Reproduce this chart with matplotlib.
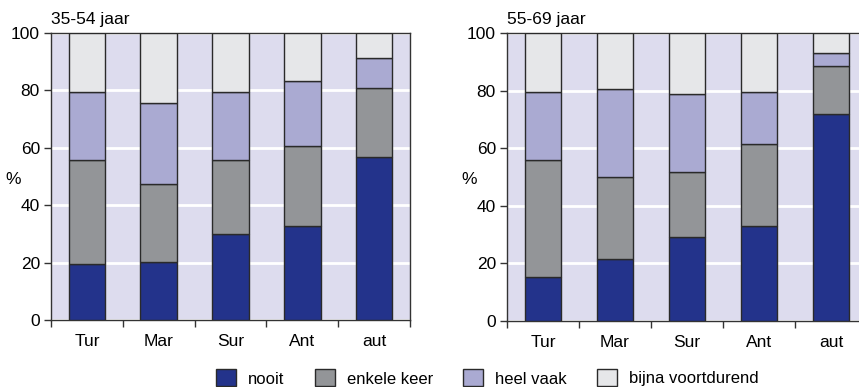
import matplotlib
matplotlib.use("Agg")
import matplotlib.pyplot as plt
import numpy as np
from matplotlib.patches import Patch

categories = ["Tur", "Mar", "Sur", "Ant", "aut"]
series_names = ["nooit", "enkele keer", "heel vaak", "bijna voortdurend"]
titles = ["35-54 jaar", "55-69 jaar"]

# segment heights per category
left_nooit = [19.4, 20.1, 30.1, 32.8, 56.7]
left_enkele = [36.3, 27.2, 25.5, 27.9, 24.2]
left_heel = [23.7, 28.4, 23.8, 22.7, 10.4]
left_bijna = [20.6, 24.3, 20.6, 16.6, 8.7]

right_nooit = [15.3, 21.5, 29.2, 32.9, 71.8]
right_enkele = [40.7, 28.5, 22.5, 28.6, 16.6]
right_heel = [23.4, 30.4, 27.0, 18.0, 4.7]
right_bijna = [20.6, 19.6, 21.3, 20.5, 6.9]

yticks = [0, 20, 40, 60, 80, 100]

colors = ["#23338b", "#939598", "#aaaad2", "#e6e7e9"]
bg = "#dddcee"
edge = "#2a2a2a"

plt.rcParams["font.family"] = ["Liberation Sans", "DejaVu Sans"]

fig = plt.figure(figsize=(8.59, 3.87), dpi=100)
W, H = 859, 387

def make_ax(x0, x1, y0, y1):
    return fig.add_axes([x0 / W, 1 - y1 / H, (x1 - x0) / W, (y1 - y0) / H])

axes = [make_ax(51, 410, 33, 320), make_ax(507, 867, 33, 321)]
data = [
    [left_nooit, left_enkele, left_heel, left_bijna],
    [right_nooit, right_enkele, right_heel, right_bijna],
]

x = np.arange(len(categories))
for ax, series, title in zip(axes, data, titles):
    ax.set_facecolor(bg)
    ax.set_axisbelow(True)
    ax.grid(axis="y", color="white", linewidth=2)
    bottom = np.zeros(len(categories))
    for vals, c in zip(series, colors):
        ax.bar(x, vals, bottom=bottom, width=0.51, color=c,
               edgecolor=edge, linewidth=1.0, zorder=3)
        bottom += np.array(vals)
    ax.set_xlim(-0.5, len(categories) - 0.5)
    ax.set_ylim(0, 100)
    ax.set_yticks(yticks)
    ax.set_xticks(x)
    ax.set_xticklabels(categories)
    ax.set_xticks(np.arange(-0.5, len(categories)), minor=True)
    ax.tick_params(axis="x", which="major", length=0, labelsize=12.5, pad=10)
    ax.tick_params(axis="x", which="minor", length=5, width=1, color="#333333")
    ax.tick_params(axis="y", length=5, width=1, labelsize=12.5, color="#333333", pad=3)
    for s in ax.spines.values():
        s.set_color("#333333")
        s.set_linewidth(1.0)
    ax.set_ylabel("%", rotation=0, fontsize=12.5, va="center", ha="center")
    ax.yaxis.set_label_coords(-0.105, 0.49)
    ax.text(0.0, 1.03, title, transform=ax.transAxes, fontsize=12.5,
            ha="left", va="baseline")

handles = [Patch(facecolor=c, edgecolor=edge, linewidth=1.0) for c in colors]
fig.legend(handles, series_names, loc="upper left",
           bbox_to_anchor=(213 / W, 1 - 366 / H),
           ncol=4, frameon=False, fontsize=12, handlelength=1.2, handleheight=1.2,
           handletextpad=0.72, columnspacing=1.8, borderpad=0.2, borderaxespad=0)

fig.savefig("out.png", dpi=100)
